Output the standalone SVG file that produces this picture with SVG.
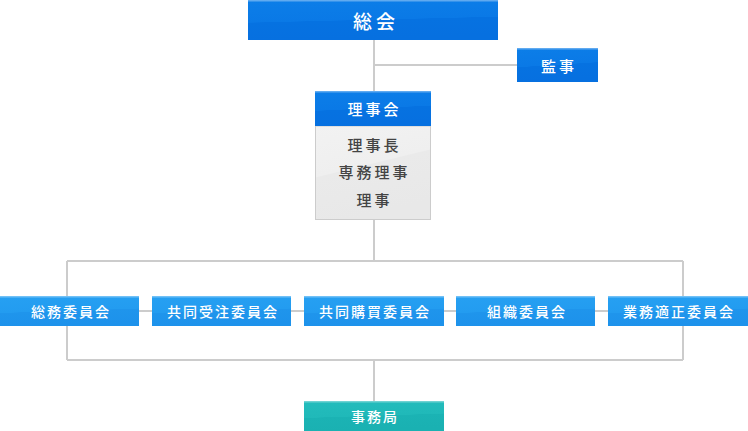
<svg xmlns="http://www.w3.org/2000/svg" width="748" height="431" viewBox="0 0 748 431">
<defs>
<linearGradient id="gBlue" x1="0" y1="0" x2="0.15" y2="1">
<stop offset="0" stop-color="#0c7ee8"/><stop offset="0.55" stop-color="#0a79e6"/><stop offset="0.56" stop-color="#0672e1"/><stop offset="1" stop-color="#0670e0"/>
</linearGradient>
<linearGradient id="gLight" x1="0" y1="0" x2="0.15" y2="1">
<stop offset="0" stop-color="#26a0f2"/><stop offset="0.55" stop-color="#239cf0"/><stop offset="0.56" stop-color="#1f95ec"/><stop offset="1" stop-color="#1d92eb"/>
</linearGradient>
<linearGradient id="gTeal" x1="0" y1="0" x2="0.15" y2="1">
<stop offset="0" stop-color="#23bcbc"/><stop offset="0.55" stop-color="#20b9b9"/><stop offset="0.56" stop-color="#1bb3b4"/><stop offset="1" stop-color="#1ab1b2"/>
</linearGradient>
<linearGradient id="gGrey" x1="0" y1="0" x2="0.3" y2="1">
<stop offset="0" stop-color="#f2f2f2"/><stop offset="0.5" stop-color="#efefef"/><stop offset="0.51" stop-color="#eaeaea"/><stop offset="1" stop-color="#e8e8e8"/>
</linearGradient>
</defs>
<style>
.t{font-family:"Noto Sans CJK JP","Noto Sans",sans-serif;fill:#fff;text-anchor:middle;dominant-baseline:central;font-weight:500}
.big{font-size:19px;letter-spacing:4px}
.mid{font-size:15px;letter-spacing:3px}
.sm{font-size:14px;letter-spacing:2px}
.body{font-size:15px;letter-spacing:3px;fill:#444}
.hl{fill:#ffffff;opacity:0.35}
.ln{stroke:#cccccc;stroke-width:2;fill:none}
</style>
<g id="connectors">
<path class="ln" d="M374 40 V91 M374 65 H517 M374 220 V261 M67 261 H683 M67 261 V360 M683 261 V360 M67 360 H683 M374 360 V401 M139 311 H152 M291 311 H304 M444 311 H456 M595 311 H608"/>
</g>
<g id="soukai">
<rect x="248" y="0" width="250" height="40" fill="url(#gBlue)"/>
<rect class="hl" x="248" y="0" width="250" height="1.5"/>
<text class="t big" x="376" y="20">総会</text>
</g>
<g id="kanji">
<rect x="517" y="48" width="81" height="34" fill="url(#gBlue)"/>
<rect class="hl" x="517" y="48" width="81" height="1.5"/>
<text class="t mid" x="559" y="65">監事</text>
</g>
<g id="rijikai">
<rect x="315.5" y="126" width="115" height="93.5" fill="url(#gGrey)" stroke="#cccccc" stroke-width="1"/>
<rect x="315" y="91" width="116" height="35" fill="url(#gBlue)"/>
<rect class="hl" x="315" y="91" width="116" height="1.5"/>
<text class="t mid" x="374.5" y="108.5">理事会</text>
<text class="t body" x="374.5" y="144">理事長</text>
<text class="t body" x="374.5" y="171">専務理事</text>
<text class="t body" x="374.5" y="199">理事</text>
</g>
<g id="soumu">
<rect x="0" y="296" width="139" height="30" fill="url(#gLight)"/>
<rect class="hl" x="0" y="296" width="139" height="1.5"/>
<text class="t sm" x="71" y="311">総務委員会</text>
</g>
<g id="kyoudou-juchu">
<rect x="152" y="296" width="139" height="30" fill="url(#gLight)"/>
<rect class="hl" x="152" y="296" width="139" height="1.5"/>
<text class="t sm" x="223" y="311">共同受注委員会</text>
</g>
<g id="kyoudou-kobai">
<rect x="304" y="296" width="140" height="30" fill="url(#gLight)"/>
<rect class="hl" x="304" y="296" width="140" height="1.5"/>
<text class="t sm" x="375" y="311">共同購買委員会</text>
</g>
<g id="soshiki">
<rect x="456" y="296" width="139" height="30" fill="url(#gLight)"/>
<rect class="hl" x="456" y="296" width="139" height="1.5"/>
<text class="t sm" x="527" y="311">組織委員会</text>
</g>
<g id="gyoumu">
<rect x="608" y="296" width="140" height="30" fill="url(#gLight)"/>
<rect class="hl" x="608" y="296" width="140" height="1.5"/>
<text class="t sm" x="679" y="311">業務適正委員会</text>
</g>
<g id="jimukyoku">
<rect x="304" y="401" width="140" height="30" fill="url(#gTeal)"/>
<rect class="hl" x="304" y="401" width="140" height="1.5"/>
<text class="t sm" x="375" y="416">事務局</text>
</g>
</svg>
